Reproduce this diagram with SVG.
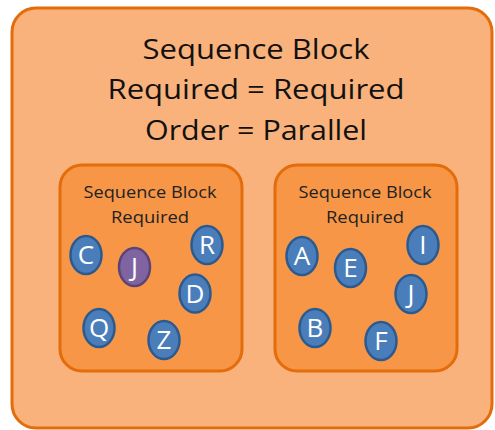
<svg xmlns="http://www.w3.org/2000/svg" width="495" height="430" viewBox="0 0 495 430">
<style>
.outer{fill:#F9B27B;stroke:#E46C0A;stroke-width:3}
.inner{fill:#F79646;stroke:#E46C0A;stroke-width:3}
.title{font-family:"Open Sans","Liberation Sans",sans-serif;font-size:27px;fill:#111;text-anchor:middle}
.sub{font-family:"Open Sans","Liberation Sans",sans-serif;font-size:15.5px;fill:#222;text-anchor:middle}
.node ellipse{fill:#4A7EBB;stroke:#2C5A8F;stroke-width:2.5}
.node.purple ellipse{fill:#8064A2;stroke:#5C4476}
.node text{font-family:"Open Sans","Liberation Sans",sans-serif;font-size:26px;fill:#fff;text-anchor:middle}
</style>
<g id="outer-block">
<rect class="outer" x="12" y="8" width="480" height="420" rx="24"/>
<text class="title" x="256" y="59" textLength="227" lengthAdjust="spacingAndGlyphs">Sequence Block</text>
<text class="title" x="256" y="99" textLength="297" lengthAdjust="spacingAndGlyphs">Required = Required</text>
<text class="title" x="256" y="140" textLength="222" lengthAdjust="spacingAndGlyphs">Order = Parallel</text>
</g>
<g id="left-block">
<rect class="inner" x="60" y="165" width="182" height="206" rx="22"/>
<text class="sub" x="150" y="198" textLength="133" lengthAdjust="spacingAndGlyphs">Sequence Block</text>
<text class="sub" x="150" y="223" textLength="78" lengthAdjust="spacingAndGlyphs">Required</text>
</g>
<g id="right-block">
<rect class="inner" x="275" y="165" width="182" height="206" rx="22"/>
<text class="sub" x="365" y="198" textLength="133" lengthAdjust="spacingAndGlyphs">Sequence Block</text>
<text class="sub" x="365" y="223" textLength="78" lengthAdjust="spacingAndGlyphs">Required</text>
</g>
<g id="node-C" class="node"><ellipse cx="86" cy="255" rx="15.5" ry="19"/><text x="86" y="264">C</text></g>
<g id="node-J1" class="node purple"><ellipse cx="134.5" cy="267" rx="15.5" ry="19"/><text x="134.5" y="276">J</text></g>
<g id="node-R" class="node"><ellipse cx="207" cy="245" rx="15.5" ry="19"/><text x="207" y="254">R</text></g>
<g id="node-D" class="node"><ellipse cx="195" cy="293.5" rx="15.5" ry="19"/><text x="195" y="302.5">D</text></g>
<g id="node-Q" class="node"><ellipse cx="99" cy="328" rx="15.5" ry="19"/><text x="99" y="337">Q</text></g>
<g id="node-Z" class="node"><ellipse cx="164" cy="340" rx="15.5" ry="19"/><text x="164" y="349">Z</text></g>
<g id="node-A" class="node"><ellipse cx="302" cy="256" rx="15.5" ry="19"/><text x="302" y="265">A</text></g>
<g id="node-E" class="node"><ellipse cx="350.5" cy="268" rx="15.5" ry="19"/><text x="350.5" y="277">E</text></g>
<g id="node-I" class="node"><ellipse cx="423" cy="245" rx="15.5" ry="19"/><text x="423" y="254">I</text></g>
<g id="node-J2" class="node"><ellipse cx="411" cy="294" rx="15.5" ry="19"/><text x="411" y="303">J</text></g>
<g id="node-B" class="node"><ellipse cx="315" cy="328" rx="15.5" ry="19"/><text x="315" y="337">B</text></g>
<g id="node-F" class="node"><ellipse cx="381" cy="341" rx="15.5" ry="19"/><text x="381" y="350">F</text></g>
<g id="connectors"/>
</svg>
